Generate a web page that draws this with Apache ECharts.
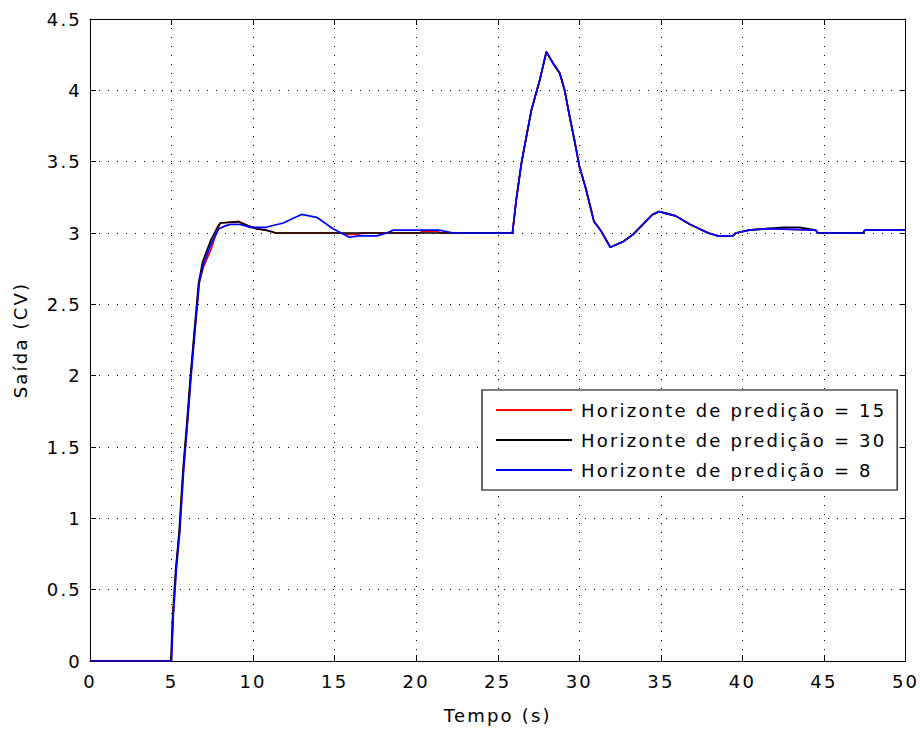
<!DOCTYPE html>
<html>
<head>
<meta charset="utf-8">
<script src="https://cdn.jsdelivr.net/npm/echarts@6/dist/echarts.min.js"></script>
<style>
  html, body { margin: 0; padding: 0; background: #fff; }
  #main { width: 920px; height: 729px; }
  /* o texto do MATLAB é mais espaçado */
  #main svg text { letter-spacing: 2.2px; }
</style>
</head>
<body>
<div id="main"></div>
<script>
// eixos
const xTicks = [0, 5, 10, 15, 20, 25, 30, 35, 40, 45, 50];
const yTicks = [0, 0.5, 1, 1.5, 2, 2.5, 3, 3.5, 4, 4.5];
const nomes = ['Horizonte de predição = 15', 'Horizonte de predição = 30', 'Horizonte de predição = 8'];

// horizonte = 8 (azul)
const tempo8 = [0, 5, 5.1, 5.3, 5.5, 5.75, 6.0, 6.2, 6.45, 6.7, 6.95, 7.45, 7.9, 8.3, 8.6, 9.2, 9.8, 10.8, 11.85, 12.4, 12.97, 13.9, 14.9, 15.4, 15.9, 16.5, 17.6, 18.2, 18.6, 21.4, 22.3, 25.9,
  26.14, 26.45, 26.76, 27.06, 27.57, 27.98, 28.39, 28.8, 29.1, 29.4, 29.7, 30.0, 30.4, 30.9, 31.3, 31.9, 32.7, 33.3, 33.9, 34.5, 34.9, 35.9, 36.8, 37.9, 38.5, 39.4, 39.6, 40.4, 41.5, 44.5, 44.6, 47.4, 47.5, 50];
const saida8 = [0, 0, 0.3, 0.65, 0.9, 1.35, 1.7, 2.0, 2.33, 2.65, 2.78, 2.93, 3.03, 3.05, 3.06, 3.06, 3.04, 3.04, 3.07, 3.1, 3.13, 3.11, 3.03, 3.0, 2.97, 2.98, 2.98, 3.0, 3.02, 3.02, 3.0, 3.0,
  3.24, 3.49, 3.68, 3.86, 4.07, 4.27, 4.19, 4.12, 4.0, 3.82, 3.65, 3.47, 3.31, 3.08, 3.02, 2.9, 2.94, 2.99, 3.06, 3.13, 3.15, 3.12, 3.06, 3.0, 2.98, 2.98, 3.0, 3.02, 3.03, 3.02, 3.0, 3.0, 3.02, 3.02];

// horizonte = 30 (preto)
const tempo30 = [0, 4.96, 5.06, 5.26, 5.46, 5.71, 5.96, 6.16, 6.41, 6.66, 6.91, 7.41, 7.86, 8.0, 9.1, 9.7, 10.2, 10.8, 11.4, 25.9,
  26.14, 26.45, 26.76, 27.06, 27.57, 27.98, 28.39, 28.8, 29.1, 29.4, 29.7, 30.0, 30.4, 30.9, 31.3, 31.9, 32.7, 33.3, 33.9, 34.5, 34.9, 35.9, 36.8, 37.9, 38.5, 39.4, 39.6, 40.4, 41.5, 42.5, 43.5, 44.5, 44.6, 47.4, 47.5, 50];
const saida30 = [0, 0, 0.3, 0.65, 0.9, 1.35, 1.7, 2.0, 2.33, 2.65, 2.8, 2.95, 3.05, 3.07, 3.08, 3.05, 3.03, 3.02, 3.0, 3.0,
  3.24, 3.49, 3.68, 3.86, 4.07, 4.27, 4.19, 4.12, 4.0, 3.82, 3.65, 3.47, 3.31, 3.08, 3.02, 2.9, 2.94, 2.99, 3.06, 3.13, 3.15, 3.12, 3.06, 3.0, 2.98, 2.98, 3.0, 3.02, 3.03, 3.04, 3.04, 3.02, 3.0, 3.0, 3.02, 3.02];

// horizonte = 15 (vermelho)
const tempo15 = [0, 4.98, 5.08, 5.28, 5.48, 5.73, 5.98, 6.18, 6.43, 6.68, 6.95, 7.4, 7.86, 8.0, 9.1, 9.7, 10.2, 10.8, 11.4, 15.4, 15.7, 16.4, 16.7, 20.2, 20.4, 21.3, 21.5, 25.9,
  26.14, 26.45, 26.76, 27.06, 27.57, 27.98, 28.39, 28.8, 29.1, 29.4, 29.7, 30.0, 30.4, 30.9, 31.3, 31.9, 32.7, 33.3, 33.9, 34.5, 34.9, 35.9, 36.8, 37.9, 38.5, 39.4, 39.6, 40.4, 41.5, 44.5, 44.6, 47.4, 47.5, 50];
const saida15 = [0, 0, 0.3, 0.65, 0.9, 1.35, 1.7, 2.0, 2.33, 2.65, 2.76, 2.88, 3.04, 3.07, 3.08, 3.05, 3.03, 3.02, 3.0, 3.0, 2.99, 2.99, 3.0, 3.0, 3.012, 3.012, 3.0, 3.0,
  3.24, 3.49, 3.68, 3.86, 4.07, 4.27, 4.19, 4.12, 4.0, 3.82, 3.65, 3.47, 3.31, 3.08, 3.02, 2.9, 2.94, 2.99, 3.06, 3.13, 3.15, 3.12, 3.06, 3.0, 2.98, 2.98, 3.0, 3.02, 3.03, 3.02, 3.0, 3.0, 3.02, 3.02];

const pares = (t, v) => t.map((x, i) => [x, v[i]]);
const fonte = 'DejaVu Sans';
const tam = 18;

const chart = echarts.init(document.getElementById('main'), null, { renderer: 'svg' });

const eixoX = (pos, labels) => ({
  type: 'value', position: pos, min: 0, max: 50, interval: 5,
  axisLine: { show: true, onZero: false, lineStyle: { color: '#000', width: 1 } },
  axisTick: { show: true, inside: true, length: 6, lineStyle: { color: '#000' } },
  axisLabel: { show: labels, color: '#000', fontSize: tam, fontFamily: fonte, margin: 11 },
  splitLine: { show: labels, lineStyle: { color: '#000', type: [1, 8], width: 1 } },
  name: labels ? 'Tempo (s)' : '', nameLocation: 'middle', nameGap: 45,
  nameTextStyle: { color: '#000', fontSize: tam, fontFamily: fonte }
});
const eixoY = (pos, labels) => ({
  type: 'value', position: pos, min: 0, max: 4.5, interval: 0.5,
  axisLine: { show: true, onZero: false, lineStyle: { color: '#000', width: 1 } },
  axisTick: { show: true, inside: true, length: 6, lineStyle: { color: '#000' } },
  axisLabel: { show: labels, color: '#000', fontSize: tam, fontFamily: fonte, margin: 8 },
  splitLine: { show: labels, lineStyle: { color: '#000', type: [1, 8], width: 1 } },
  name: labels ? 'Saída (CV)' : '', nameLocation: 'middle', nameGap: 61, nameRotate: 90,
  nameTextStyle: { color: '#000', fontSize: tam, fontFamily: fonte }
});

const linha = (nome, cor, dados, z) => ({
  name: nome, type: 'line', data: dados, showSymbol: false, symbol: 'none',
  lineStyle: { color: cor, width: 1.7 }, itemStyle: { color: cor },
  animation: false, z: z
});

const option = {
  backgroundColor: '#fff',
  animation: false,
  grid: { left: 90, right: 14, top: 19, bottom: 66, containLabel: false },
  xAxis: [eixoX('bottom', true), eixoX('top', false)],
  yAxis: [eixoY('left', true), eixoY('right', false)],
  legend: {
    orient: 'vertical', left: 482, top: 390,
    backgroundColor: '#fff', borderColor: '#000', borderWidth: 1.2,
    padding: [11, 68, 11, 14], itemGap: 12,
    itemWidth: 76, itemHeight: 2, icon: 'rect',
    textStyle: { color: '#000', fontSize: tam, fontFamily: fonte, padding: [0, 0, 0, 4] },
    data: nomes
  },
  series: [
    linha(nomes[0], '#ff0000', pares(tempo15, saida15), 3),
    linha(nomes[1], '#000000', pares(tempo30, saida30), 4),
    linha(nomes[2], '#0000ff', pares(tempo8, saida8), 5)
  ]
};
chart.setOption(option);
</script>
</body>
</html>
